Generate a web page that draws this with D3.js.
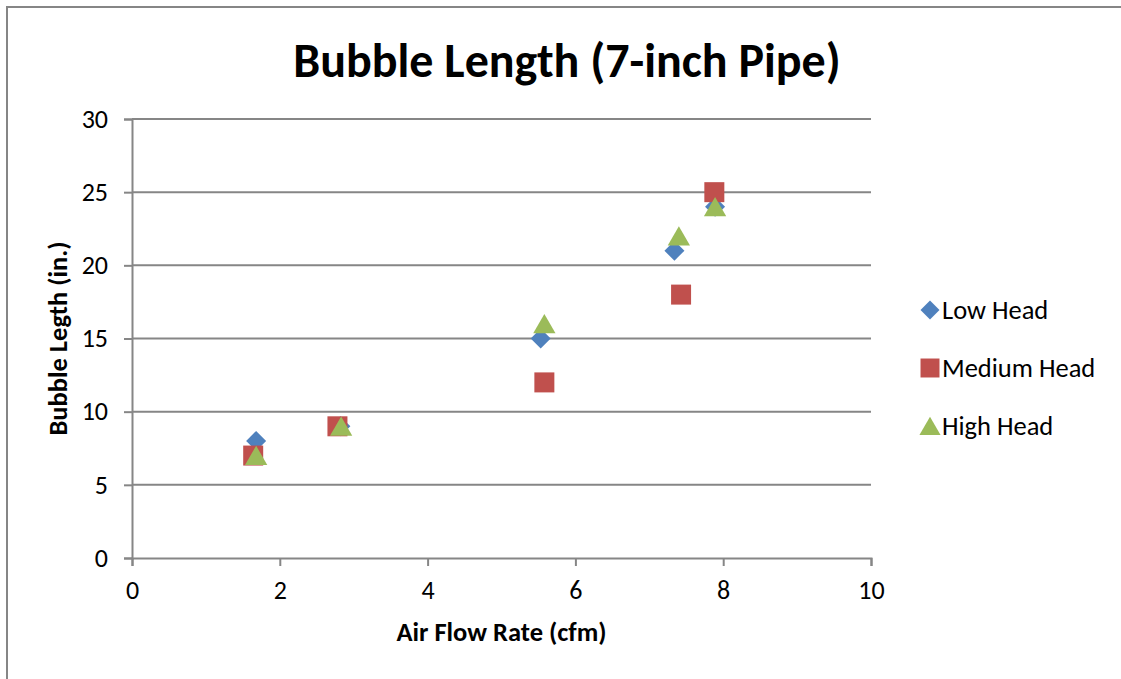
<!DOCTYPE html>
<html>
<head>
<meta charset="utf-8">
<script src="https://cdn.jsdelivr.net/npm/d3@7"></script>
<style>
  body { margin: 0; background: #fff; }
  svg { display: block; font-family: Carlito, "Open Sans", "Noto Sans", sans-serif; }
</style>
</head>
<body>
<svg id="chart" width="1121" height="679"></svg>
<script>
const seriesNames = ["Low Head", "Medium Head", "High Head"];
const seriesColors = ["#4F81BD", "#C0504D", "#9BBB59"];
const lowHead = [[1.68, 8], [2.82, 9], [5.53, 15], [7.34, 21], [7.89, 24]];
const mediumHead = [[1.64, 7], [2.78, 9], [5.58, 12], [7.43, 18], [7.88, 25]];
const highHead = [[1.68, 7], [2.83, 9], [5.58, 16], [7.40, 22], [7.89, 24]];
const xTicks = [0, 2, 4, 6, 8, 10];
const yTicks = [0, 5, 10, 15, 20, 25, 30];

const series = [lowHead, mediumHead, highHead];
// diamond = square turned 45deg
const shapes = [d3.symbolSquare, d3.symbolSquare, d3.symbolTriangle];
const sizes = [200, 400, 215];
const turns = [45, 0, 0];
// push triangle down so its box (not centroid) sits on the point
const shiftY = [0, 0, 3];

const svg = d3.select("#chart");
const grey = "#868686";
const font = 'Carlito, "Open Sans", "Noto Sans", sans-serif';

// outer chart border (runs off the right and bottom)
svg.append("path")
  .attr("d", "M7,679 L7,7 L1121,7")
  .attr("fill", "none").attr("stroke", grey).attr("stroke-width", 2);

const x = d3.scaleLinear().domain([0, 10]).range([132, 871]);
const y = d3.scaleLinear().domain([0, 30]).range([558, 119]);

// gridlines
svg.append("g").selectAll("line")
  .data(yTicks.slice(1))
  .join("line")
  .attr("x1", x(0)).attr("x2", x(10))
  .attr("y1", d => y(d)).attr("y2", d => y(d))
  .attr("stroke", grey).attr("stroke-width", 2);

const xAxis = d3.axisBottom(x).tickValues(xTicks).tickSize(8).tickPadding(15).tickFormat(d3.format("d"));
const yAxis = d3.axisLeft(y).tickValues(yTicks).tickSize(8).tickPadding(16).tickFormat(d3.format("d"));

const gx = svg.append("g").attr("transform", `translate(0,${y(0)})`).call(xAxis);
const gy = svg.append("g").attr("transform", `translate(${x(0)},0)`).call(yAxis);
[gx, gy].forEach(g => {
  g.select(".domain").attr("stroke", grey).attr("stroke-width", 2);
  g.selectAll(".tick line").attr("stroke", grey).attr("stroke-width", 2);
  g.selectAll(".tick text").attr("fill", "#000").style("font-size", "26px")
    .style("font-family", font);
});

// points
series.forEach((data, i) => {
  svg.append("g").selectAll("path")
    .data(data)
    .join("path")
    .attr("transform", d => `translate(${x(d[0])},${y(d[1]) + shiftY[i]}) rotate(${turns[i]})`)
    .attr("d", d3.symbol().type(shapes[i]).size(sizes[i]))
    .attr("fill", seriesColors[i]);
});

// title
svg.append("text")
  .attr("x", 567).attr("y", 77)
  .attr("text-anchor", "middle")
  .style("font-size", "48px").style("font-weight", "bold")
  .text("Bubble Length (7-inch Pipe)");

// axis titles
svg.append("text")
  .attr("x", (x(0) + x(10)) / 2).attr("y", 641)
  .attr("text-anchor", "middle")
  .style("font-size", "26.5px").style("font-weight", "bold")
  .text("Air Flow Rate (cfm)");

svg.append("text")
  .attr("transform", `translate(67,${(y(0) + y(30)) / 2}) rotate(-90)`)
  .attr("text-anchor", "middle")
  .style("font-size", "26.5px").style("font-weight", "bold")
  .text("Bubble Legth (in.)");

// legend
const legend = svg.append("g").selectAll("g")
  .data(seriesNames)
  .join("g")
  .attr("transform", (d, i) => `translate(930,${310 + i * 58})`);
legend.append("path")
  .attr("transform", (d, i) => `translate(0,${shiftY[i]}) rotate(${turns[i]})`)
  .attr("d", (d, i) => d3.symbol().type(shapes[i]).size(sizes[i] * 0.9)())
  .attr("fill", (d, i) => seriesColors[i]);
legend.append("text")
  .attr("x", 12).attr("dy", "0.35em")
  .style("font-size", "26.5px")
  .text(d => d);
</script>
</body>
</html>
